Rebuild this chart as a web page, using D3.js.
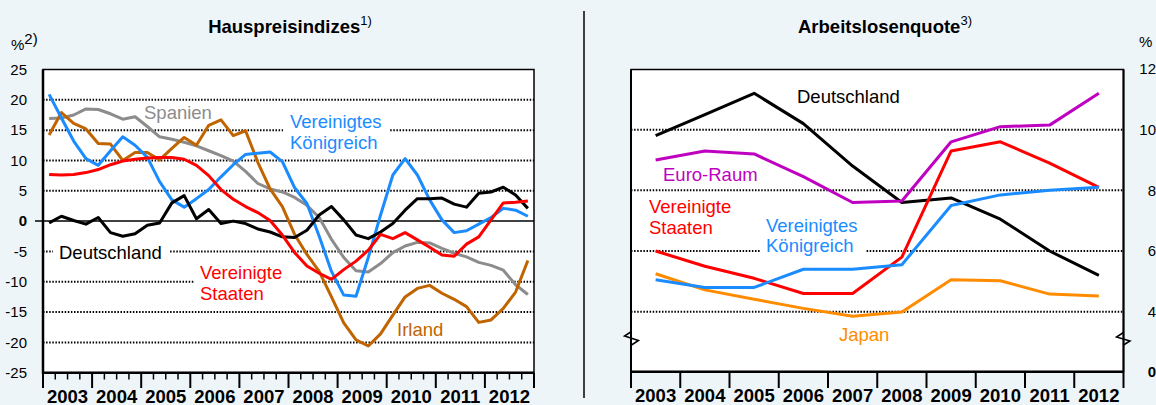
<!DOCTYPE html>
<html><head><meta charset="utf-8">
<script src="https://cdn.jsdelivr.net/npm/d3@7"></script>
<style>
body{margin:0;background:#edf5f9}
svg{display:block}
text{font-family:"Liberation Sans",Arial,Helvetica,sans-serif}
</style>
</head><body>
<svg id="chart" width="1156" height="405"></svg>
<script>
// ---------- DATA ----------
const years = ["2003","2004","2005","2006","2007","2008","2009","2010","2011","2012"];
const quarterNames = ["Q1","Q2","Q3","Q4"];
const quarters = years.flatMap(y => quarterNames.map(q => y + q));

const leftTicks = [25,20,15,10,5,0,-5,-10,-15,-20,-25];
const leftGrid = [20,15,10,5,-5,-10,-15,-20];
const rightTicks = [12,10,8,6,4,0];
const rightGrid = [10,8,6,4];

// Hauspreisindizes (quarterly, % yoy)
const hpDeutschland = [-0.3,0.8,0.1,-0.5, 0.6,-1.9,-2.5,-2.1, -0.7,-0.3,3.0,4.2, 0.4,1.9,-0.4,0.0, -0.4,-1.3,-1.8,-2.6, -2.7,-1.5,1.0,2.4, 0.2,-2.3,-2.9,-1.8, -0.4,1.8,3.7,3.7, 3.8,2.8,2.3,4.6, 4.8,5.6,4.3,2.1];
const hpSpanien = [16.9,17.0,17.5,18.5, 18.4,17.7,16.8,17.2, 15.6,13.9,13.5,13.0, 12.4,11.6,10.8,9.9, 8.2,6.2,5.3,4.8, 3.9,2.6,0.6,-3.0, -6.0,-8.2,-8.4,-7.0, -5.2,-4.1,-3.5,-3.6, -4.5,-5.3,-5.9,-6.8, -7.3,-8.1,-10.5,-12.1];
const hpIrland = [14.2,17.9,16.1,15.2, 12.8,12.7,10.0,11.3, 11.3,10.1,12.0,13.8, 12.5,15.8,16.7,14.1, 14.9,9.7,5.3,2.4, -2.2,-5.5,-8.3,-12.5, -16.8,-19.6,-20.6,-18.6, -15.5,-12.5,-11.1,-10.6, -11.9,-12.9,-14.1,-16.7, -16.3,-14.4,-11.7,-6.5];
const hpVereinigtesKoenigreich = [20.9,17.0,13.2,10.3, 9.2,11.6,13.9,12.5, 10.5,6.5,3.5,2.3, 3.7,5.2,7.3,9.3, 11.0,11.2,11.4,9.8, 5.5,2.9,-2.5,-8.3, -12.2,-12.4,-6.0,1.0, 7.6,10.3,7.6,3.5, 0.2,-1.9,-1.6,-0.5, 0.6,2.1,1.8,0.8];
const hpVereinigteStaaten = [7.7,7.6,7.7,8.0, 8.5,9.3,9.9,10.2, 10.4,10.5,10.5,10.2, 9.2,7.5,5.2,3.6, 2.4,1.4,0.1,-2.3, -5.2,-7.4,-8.6,-9.6, -8.0,-6.6,-4.8,-2.2, -2.9,-1.9,-3.1,-4.3, -5.6,-5.8,-3.8,-2.6, 0.2,3.0,3.1,3.3];

// Arbeitslosenquote (annual, %)
const alDeutschland = [9.8,10.5,11.2,10.2,8.8,7.6,7.75,7.05,6.0,5.2];
const alEuroRaum = [9.0,9.3,9.2,8.45,7.6,7.65,9.6,10.1,10.15,11.2];
const alVereinigteStaaten = [6.0,5.5,5.1,4.6,4.6,5.8,9.3,9.6,8.9,8.1];
const alVereinigtesKoenigreich = [5.05,4.8,4.8,5.4,5.4,5.55,7.5,7.85,8.0,8.1];
const alJapan = [5.25,4.72,4.41,4.11,3.7,3.98,5.05,5.02,4.58,4.52];

const C = {black:"#000000", gray:"#8c8c8c", brown:"#c06400", blue:"#1a8cff", red:"#ff0000", magenta:"#c000c0", orange:"#ff8c00"};

// ---------- DRAW ----------
const svg = d3.select("#chart");
const FONT = '"Liberation Sans",Arial,sans-serif';

// left panel geometry
const L = {x0:43, x1:534, y0:69.5, y1:372.7};
const R = {x0:631, x1:1123.5, y0:69.5, y1:371.7};

const xYearL = d3.scaleBand().domain(years).range([L.x0, L.x1]);
const xQ = d3.scaleBand().domain(quarters).range([L.x0, L.x1]);
const yL = d3.scaleLinear().domain([-25,25]).range([L.y1, L.y0]);

const xYearR = d3.scaleBand().domain(years).range([R.x0, R.x1]);
const yR = d3.scaleLinear().domain([0,4,12]).range([R.y1, 311.7, 69]);

// separator
svg.append("line").attr("x1",584).attr("x2",584).attr("y1",11).attr("y2",398)
  .attr("stroke","#000").attr("stroke-width",1.5);

// plot backgrounds
svg.append("rect").attr("x",L.x0).attr("y",L.y0).attr("width",L.x1-L.x0).attr("height",L.y1-L.y0).attr("fill","#fff");
svg.append("rect").attr("x",R.x0).attr("y",R.y0).attr("width",R.x1-R.x0).attr("height",R.y1-R.y0).attr("fill","#fff");

// gridlines
const gL = svg.append("g");
gL.selectAll("line").data(leftGrid).join("line")
  .attr("x1",L.x0).attr("x2",L.x1).attr("y1",d=>yL(d)).attr("y2",d=>yL(d))
  .attr("stroke","#000").attr("stroke-width",2).attr("stroke-dasharray","1.5,1.6");
svg.append("line").attr("x1",35).attr("x2",L.x1).attr("y1",yL(0)).attr("y2",yL(0))
  .attr("stroke","#000").attr("stroke-width",1.5);

const gR = svg.append("g");
gR.selectAll("line").data(rightGrid).join("line")
  .attr("x1",R.x0).attr("x2",R.x1).attr("y1",d=>yR(d)).attr("y2",d=>yR(d))
  .attr("stroke","#000").attr("stroke-width",2).attr("stroke-dasharray","1.5,1.6");

// label backgrounds (break gridlines)
const bgs = [[283,113,106,40],[53,245,117,20],[195,264,96,40],[760,236,105,22]];
svg.selectAll("rect.bg").data(bgs).join("rect").attr("class","bg")
  .attr("x",d=>d[0]).attr("y",d=>d[1]).attr("width",d=>d[2]).attr("height",d=>d[3]).attr("fill","#fff");

// lines
const lineQ = d3.line().x((d,i)=>xQ(quarters[i])+xQ.bandwidth()/2).y(d=>yL(d));
const lineA = d3.line().x((d,i)=>xYearR(years[i])+xYearR.bandwidth()/2).y(d=>yR(d));

const leftSeries = [
  [hpSpanien, C.gray],
  [hpIrland, C.brown],
  [hpVereinigtesKoenigreich, C.blue],
  [hpDeutschland, C.black],
  [hpVereinigteStaaten, C.red]
];
svg.append("g").selectAll("path").data(leftSeries).join("path")
  .attr("d",d=>lineQ(d[0])).attr("fill","none").attr("stroke",d=>d[1])
  .attr("stroke-width",3).attr("stroke-linejoin","round");

const rightSeries = [
  [alJapan, C.orange],
  [alDeutschland, C.black],
  [alEuroRaum, C.magenta],
  [alVereinigteStaaten, C.red],
  [alVereinigtesKoenigreich, C.blue]
];
svg.append("g").selectAll("path").data(rightSeries).join("path")
  .attr("d",d=>lineA(d[0])).attr("fill","none").attr("stroke",d=>d[1])
  .attr("stroke-width",3).attr("stroke-linejoin","round");

// frames
function frame(P, lw){
  svg.append("rect").attr("x",P.x0).attr("y",P.y0).attr("width",P.x1-P.x0).attr("height",P.y1-P.y0)
    .attr("fill","none").attr("stroke","#000").attr("stroke-width",1.5);
}
frame(L); frame(R);
// thicker axes
svg.append("line").attr("x1",L.x0).attr("x2",L.x0).attr("y1",L.y0).attr("y2",L.y1+1).attr("stroke","#000").attr("stroke-width",2.5);
svg.append("line").attr("x1",L.x0).attr("x2",L.x1).attr("y1",L.y1).attr("y2",L.y1).attr("stroke","#000").attr("stroke-width",2.5);
svg.append("line").attr("x1",R.x0).attr("x2",R.x0).attr("y1",R.y0).attr("y2",R.y1).attr("stroke","#000").attr("stroke-width",2);
svg.append("line").attr("x1",R.x1).attr("x2",R.x1).attr("y1",R.y0).attr("y2",R.y1).attr("stroke","#000").attr("stroke-width",2);
svg.append("line").attr("x1",R.x0).attr("x2",R.x1).attr("y1",R.y1).attr("y2",R.y1).attr("stroke","#000").attr("stroke-width",2.5);

// ticks left
const qBounds = quarters.map(q=>xQ(q)).concat([L.x1]);
svg.append("g").selectAll("line").data(qBounds).join("line")
  .attr("x1",d=>d).attr("x2",d=>d).attr("y1",L.y1)
  .attr("y2",(d,i)=> i%4===0 ? 388 : 379.5)
  .attr("stroke","#000").attr("stroke-width",(d,i)=> i%4===0 ? 2 : 1.5);
// ticks right
const yBoundsR = years.map(y=>xYearR(y)).concat([R.x1]);
svg.append("g").selectAll("line").data(yBoundsR).join("line")
  .attr("x1",d=>d).attr("x2",d=>d).attr("y1",R.y1).attr("y2",388)
  .attr("stroke","#000").attr("stroke-width",2);

// year labels
svg.append("g").selectAll("text").data(years).join("text")
  .attr("x",d=>xYearL(d)+xYearL.bandwidth()/2).attr("y",402.5).attr("text-anchor","middle")
  .attr("font-size","18.5px").attr("font-weight","bold").text(d=>d);
svg.append("g").selectAll("text").data(years).join("text")
  .attr("x",d=>xYearR(d)+xYearR.bandwidth()/2).attr("y",402).attr("text-anchor","middle")
  .attr("font-size","18.5px").attr("font-weight","bold").text(d=>d);

// y tick labels
svg.append("g").selectAll("text").data(leftTicks).join("text")
  .attr("x",27).attr("y",d=>yL(d)+5.3).attr("text-anchor","end")
  .attr("font-size","15px").attr("font-weight",d=>d===0?"bold":"normal").text(d=>d);
svg.append("g").selectAll("text").data(rightTicks).join("text")
  .attr("x",1156).attr("y",d=>yR(d)+5.3).attr("text-anchor","end")
  .attr("font-size","15px").attr("font-weight",d=>d===0?"bold":"normal").text(d=>d);

// units
const pl = svg.append("text").attr("x",11).attr("y",49.5).attr("font-size","15px");
pl.append("tspan").text("%");
pl.append("tspan").attr("dy",-6).text("2)");
svg.append("text").attr("x",1139).attr("y",47).attr("font-size","15px").text("%");

// titles
function title(x, y, main, sup){
  const t = svg.append("text").attr("x",x).attr("y",y).attr("text-anchor","middle").attr("font-size","18.5px").attr("font-weight","bold");
  t.append("tspan").text(main);
  t.append("tspan").attr("dy",-8).attr("font-size","13px").attr("font-weight","normal").text(sup);
}
title(290,33,"Hauspreisindizes","1)");
title(885,33,"Arbeitslosenquote","3)");

// axis break marks
const brk = [[[631.5,331.5],[624.5,336],[638.5,340.5],[631.5,345]],[[1123.5,332.5],[1116.5,337],[1130,341],[1123.5,345]]];
svg.selectAll("path.brk").data(brk).join("path").attr("class","brk")
  .attr("d",d=>d3.line()(d)).attr("fill","none").attr("stroke","#000").attr("stroke-width",1.5);

// series labels
const labels = [
  {t:["Spanien"],x:144,y:119,c:C.gray},
  {t:["Vereinigtes","Königreich"],x:290,y:128.3,c:C.blue},
  {t:["Deutschland"],x:59,y:259.3,c:C.black},
  {t:["Vereinigte","Staaten"],x:200,y:279,c:C.red},
  {t:["Irland"],x:397,y:336,c:C.brown},
  {t:["Deutschland"],x:797,y:103.3,c:C.black},
  {t:["Euro-Raum"],x:663,y:180.7,c:C.magenta},
  {t:["Vereinigte","Staaten"],x:649,y:213.3,c:C.red},
  {t:["Vereinigtes","Königreich"],x:766,y:231.7,c:C.blue},
  {t:["Japan"],x:839,y:341,c:C.orange}
];
const lg = svg.append("g").selectAll("text").data(labels).join("text")
  .attr("x",d=>d.x).attr("y",d=>d.y).attr("fill",d=>d.c).attr("font-size","18.5px");
lg.selectAll("tspan").data(d=>d.t.map(s=>({s,x:d.x}))).join("tspan")
  .attr("x",d=>d.x).attr("dy",(d,i)=>i===0?0:20.5).text(d=>d.s);
</script>
</body></html>
